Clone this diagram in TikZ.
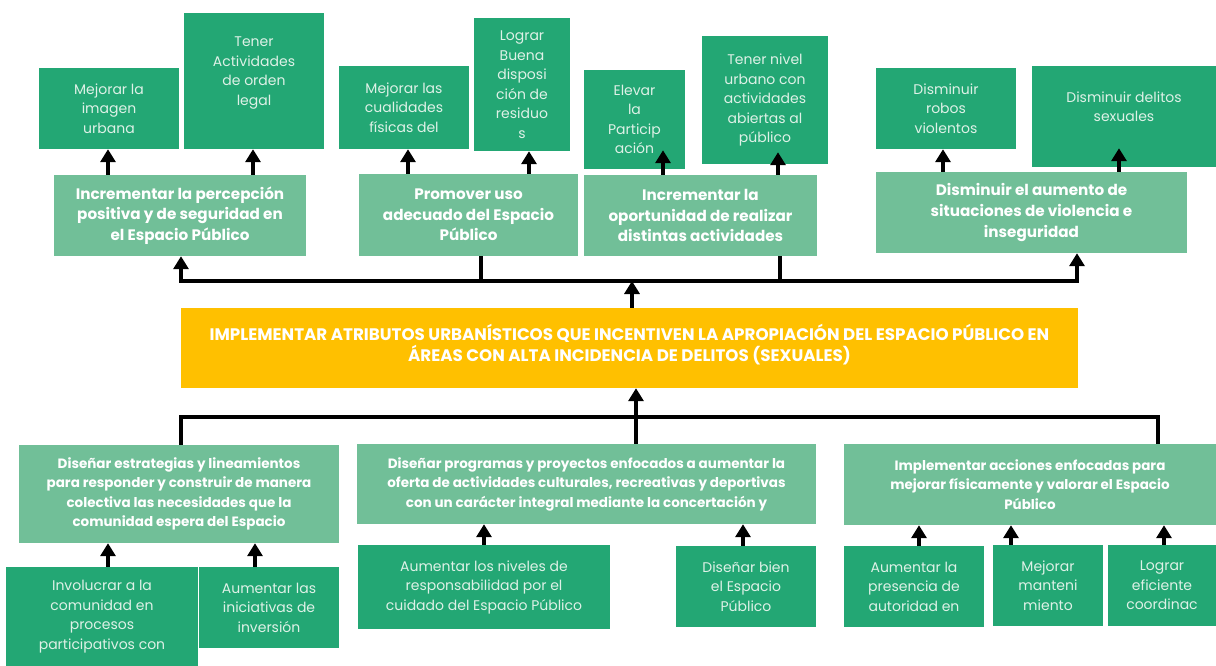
\documentclass[tikz,border=0pt]{standalone}
\usepackage{fontspec}
\setmainfont{Poppins}
\usetikzlibrary{positioning,calc,arrows.meta}
\definecolor{dgreen}{RGB}{35,167,116}
\definecolor{lgreen}{RGB}{113,191,152}
\definecolor{gold}{RGB}{255,192,0}
\definecolor{dtxt}{RGB}{222,241,231}

\begin{document}
\begin{tikzpicture}[x=1pt, y=-1pt,
    dbox/.style={fill=dgreen, text=dtxt, align=center, inner sep=0pt,
                 font=\fontsize{14}{19.5}\selectfont},
    gbox/.style={fill=lgreen, text=white, align=center, inner sep=0pt,
                 font=\fontsize{15.2}{20.7}\selectfont\bfseries},
    mbox/.style={gbox, font=\fontsize{13.5}{19.5}\selectfont\bfseries},
    mainbox/.style={fill=gold, text=white, align=center, inner sep=0pt,
                 font=\fontsize{16.7}{21.5}\selectfont\bfseries},
    arr/.style={-{Triangle[width=15pt,length=13pt]}, line width=3.5pt},
    bar/.style={line width=3.5pt, line join=miter}
]
\useasboundingbox[fill=white] (0,0) rectangle (1216,666);

% Central objective
\node[mainbox, minimum width=897, minimum height=80] (Main) at (629.5,348)
  {IMPLEMENTAR ATRIBUTOS URBANÍSTICOS QUE INCENTIVEN LA APROPIACIÓN DEL ESPACIO PÚBLICO EN\\ÁREAS CON ALTA INCIDENCIA DE DELITOS (SEXUALES)\\[-11pt]\mbox{}};

% Upper ends
\node[gbox, minimum width=252, minimum height=81] (G1) at (180,215.5)
  {Incrementar la percepción\\positiva y de seguridad en\\el Espacio Público};
\node[gbox, minimum width=219, minimum height=82] (G2) at (468.5,215)
  {Promover uso\\adecuado del Espacio\\Público};
\node[gbox, minimum width=233, minimum height=81] (G3) at (700.5,215.5)
  {Incrementar la\\oportunidad de realizar\\distintas actividades};
\node[gbox, minimum width=311, minimum height=81] (G4) at (1031.5,212.5)
  {Disminuir el aumento de\\situaciones de violencia e\\inseguridad};

% Upper effects
\node[dbox, minimum width=140, minimum height=81] (B1) at (109,108.5) {Mejorar la\\imagen\\urbana};
\node[dbox, minimum width=140, minimum height=136] (B2) at (254,81) {Tener\\Actividades\\de orden\\legal\\[0pt]\mbox{}};
\node[dbox, minimum width=130, minimum height=83] (B3) at (404,107.5) {Mejorar las\\cualidades\\físicas del};
\node[dbox, minimum width=96, minimum height=133] (B4) at (522,84.5) {Lograr\\Buena\\disposi\\ción de\\residuo\\s};
\node[dbox, minimum width=101, minimum height=99] (B5) at (634.5,119.5) {Elevar\\la\\Particip\\ación};
\node[dbox, minimum width=126, minimum height=128] (B6) at (765,100) {Tener nivel\\urbano con\\actividades\\abiertas al\\público};
\node[dbox, minimum width=140, minimum height=81] (B7) at (946,108.5) {Disminuir\\robos\\violentos};
\node[dbox, minimum width=184, minimum height=101] (B8) at (1124,116.5) {Disminuir delitos\\sexuales\\[0pt]\mbox{}};

% Lower means
\node[mbox, minimum width=320, minimum height=98] (M1) at (179,494)
  {Diseñar estrategias y lineamientos\\para responder y construir de manera\\colectiva las necesidades que la\\comunidad espera del Espacio};
\node[mbox, minimum width=459, minimum height=80] (M2) at (586.5,484)
  {Diseñar programas y proyectos enfocados a aumentar la\\oferta de actividades culturales, recreativas y deportivas\\con un carácter integral mediante la concertación y};
\node[mbox, minimum width=372, minimum height=81] (M3) at (1030,484.5)
  {Implementar acciones enfocadas para\\mejorar físicamente y valorar el Espacio\\Público};

% Lower actions
\node[dbox, minimum width=192, minimum height=99] (S1) at (102,616.5) {Involucrar a la\\comunidad en\\procesos\\participativos con};
\node[dbox, minimum width=140, minimum height=81] (S2) at (269,607.5) {Aumentar las\\iniciativas de\\inversión};
\node[dbox, minimum width=252, minimum height=84] (S3) at (484,587) {Aumentar los niveles de\\responsabilidad por el\\cuidado del Espacio Público};
\node[dbox, minimum width=140, minimum height=81] (S4) at (746,586.5) {Diseñar bien\\el Espacio\\Público};
\node[dbox, minimum width=140, minimum height=81] (S5) at (914,586.5) {Aumentar la\\presencia de\\autoridad en};
\node[dbox, minimum width=110, minimum height=81] (S6) at (1048,585.5) {Mejorar\\manteni\\miento};
\node[dbox, minimum width=108, minimum height=81] (S7) at (1162,585.5) {Lograr\\eficiente\\coordinac};

% Upper tree
\coordinate (T) at (632,281);
\draw[arr] ([xshift=2.5]Main.north) -- (T);
\draw[bar] ([xshift=12.5]G2.south) |- (T);
\draw[bar] ([xshift=79.5]G3.south) |- (T);
\draw[arr] (T) -| ([xshift=1]G1.south);
\draw[arr] (T) -| ([xshift=45.5]G4.south);

% Goals to effects
\draw[arr] ([xshift=-72]G1.north) -- ([xshift=-1]B1.south);
\draw[arr] ([xshift=73]G1.north) -- ([xshift=-1]B2.south);
\draw[arr] ([xshift=-60.5]G2.north) -- ([xshift=4]B3.south);
\draw[arr] ([xshift=60.5]G2.north) -- ([xshift=7]B4.south);
\draw[arr, shorten >=-19pt] ([xshift=-37.5]G3.north) -- ([xshift=28.5]B5.south);
\draw[arr, shorten >=-12pt] ([xshift=77.5]G3.north) -- ([xshift=13]B6.south);
\draw[arr] ([xshift=-88.5]G4.north) -- ([xshift=-3]B7.south);
\draw[arr, shorten >=-19pt] ([xshift=87.5]G4.north) -- ([xshift=-5]B8.south);

% Lower tree
\coordinate (Bt) at (636,417);
\draw[arr] ([xshift=49.5]M2.north) -- ([xshift=6.5]Main.south);
\draw[bar] (Bt) -| ([xshift=2]M1.north);
\draw[bar] (Bt) -| ([xshift=128]M3.north);

% Actions to means
\draw[arr] ([xshift=6]S1.north) -- ([xshift=-71]M1.south);
\draw[arr] ([xshift=-14]S2.north) -- ([xshift=76]M1.south);
\draw[arr] (S3.north) -- ([xshift=-102.5]M2.south);
\draw[arr] ([xshift=-3]S4.north) -- ([xshift=156.5]M2.south);
\draw[arr] ([xshift=5]S5.north) -- ([xshift=-111]M3.south);
\draw[arr] ([xshift=-37]S6.north) -- ([xshift=-19]M3.south);
\draw[arr] ([xshift=2]S7.north) -- ([xshift=134]M3.south);
\end{tikzpicture}
\end{document}
